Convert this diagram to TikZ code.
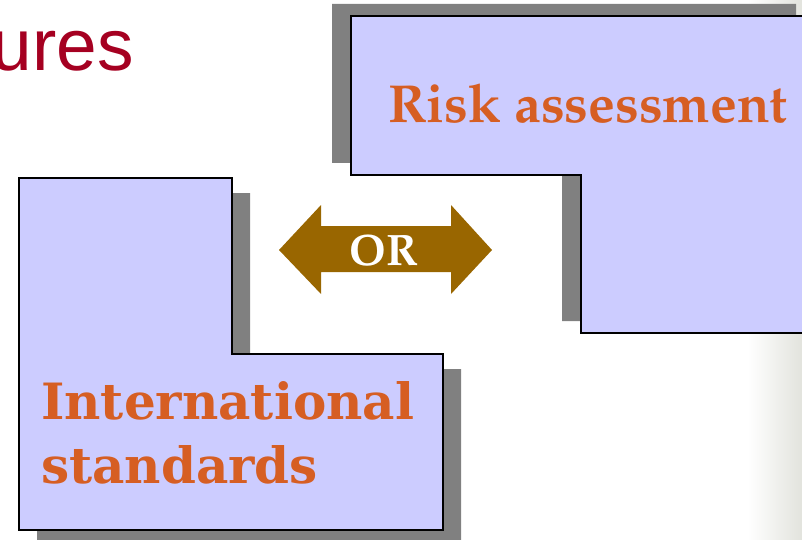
\documentclass[tikz,border=0pt]{standalone}
\usepackage{fontspec}
\usepackage{xcolor}
\usepackage{tikz}
\setmainfont{Liberation Sans}
\newfontfamily\slabfont{DejaVu Serif}
\definecolor{boxblue}{RGB}{204,204,255}
\definecolor{labelorange}{RGB}{214,94,35}
\definecolor{arrowbrown}{RGB}{153,102,0}
\definecolor{titlered}{RGB}{165,0,33}
\definecolor{edgegray}{RGB}{226,227,221}
\newcommand\palafont{\fontencoding{OT1}\fontfamily{ppl}\fontseries{b}\fontshape{n}}
\pgfkeys{tikz/mybox/.style={fill=boxblue,draw=black,line width=1.5pt,line join=miter}}
\pgfkeys{tikz/myshadow/.style={fill=black!50}}
\pgfkeys{tikz/mylabel/.style={text=labelorange,inner sep=0pt,anchor=base west}}
\newcommand*\myshadowbox[2]{
    \fill[myshadow,shift={#2}] #1;
    \filldraw[mybox] #1;
}
\begin{document}
\begin{tikzpicture}[x=1pt,y=-1pt]
    \useasboundingbox (0,0) rectangle (802,540);
    \clip (0,0) rectangle (802,540);
    \shade[left color=white,right color=edgegray] (748,0) rectangle (802,540);
    \node[text=titlered,inner sep=0pt,anchor=base east,font=\fontsize{73}{80}\selectfont] (title) at (134,71) {ures};
    % right box
    \myshadowbox{(351,16) -- (815,16) -- (815,333) -- (581,333) -- (581,175) -- (351,175) -- cycle}{(-19,-12)}
    \node[mylabel,font=\palafont\fontsize{53.5}{60}\selectfont] (risk) at (388,123) {Risk assessment};
    % left box
    \myshadowbox{(19,178) -- (232,178) -- (232,354) -- (443,354) -- (443,530) -- (19,530) -- cycle}{(18,15)}
    \node[mylabel,font=\slabfont\bfseries\fontsize{50}{64}\selectfont] (intl) at (41,419) {International};
    \node[mylabel,font=\slabfont\bfseries\fontsize{50}{64}\selectfont] (std) at (41,483) {standards};
    % OR arrow
    \fill[arrowbrown] (279,250) -- (321,205) -- (321,226) -- (451,226) -- (451,205) -- (492,250)
        -- (451,294) -- (451,272) -- (321,272) -- (321,294) -- cycle;
    \node[text=white,inner sep=0pt,anchor=base,font=\palafont\fontsize{44}{48}\selectfont] (or) at (384,265) {OR};
\end{tikzpicture}
\end{document}
